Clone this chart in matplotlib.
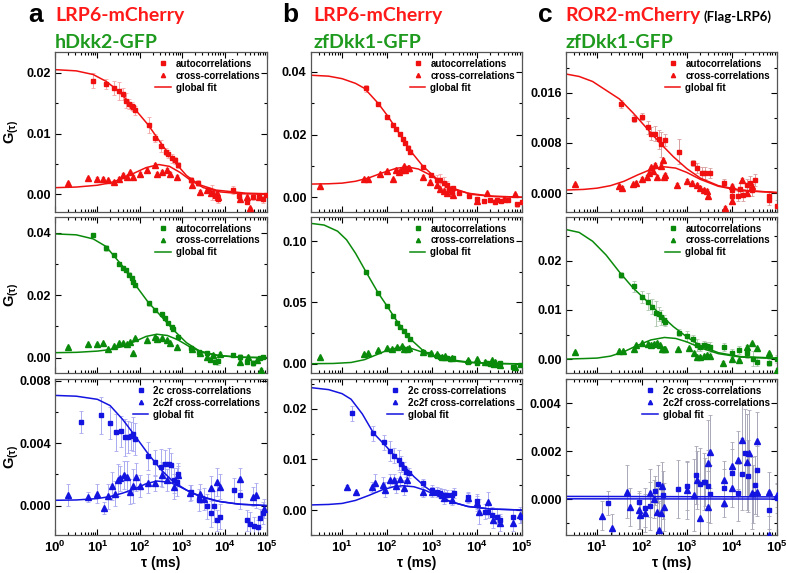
import matplotlib
matplotlib.use('Agg')
import matplotlib.pyplot as plt
import numpy as np
from matplotlib.ticker import FixedLocator, FuncFormatter, LogLocator, NullFormatter

plt.rcParams['font.family'] = 'Liberation Sans'
plt.rcParams['mathtext.fontset'] = 'custom'
plt.rcParams['mathtext.rm'] = 'Liberation Sans:bold'
plt.rcParams['mathtext.it'] = 'Liberation Sans:bold'
plt.rcParams['mathtext.bf'] = 'Liberation Sans:bold'

# data: rows of (log10 tau [ms], G(tau), error)
# ---- column a : LRP6-mCherry / hDkk2-GFP
A1_AUTO = [(0.90, 0.0187, 0.0012), (1.20, 0.0181, 0.0008), (1.38, 0.0175, 0.0012), (1.50, 0.0170, 0.0015),
           (1.61, 0.0165, 0.0010), (1.67, 0.0154, 0.0012), (1.75, 0.0149, 0.0008), (1.81, 0.0145, 0.0007),
           (1.85, 0.0143, 0.0006), (1.89, 0.0138, 0.0007), (2.21, 0.0114, 0.0013), (2.36, 0.0093, 0.0007),
           (2.51, 0.0080, 0.0010), (2.62, 0.0070, 0.0006), (2.67, 0.0066, 0.0007), (2.75, 0.0059, 0.0008),
           (2.83, 0.0056, 0.0006), (2.89, 0.0048, 0.0005), (3.20, 0.0024, 0.0005), (3.38, 0.0018, 0.0005),
           (3.60, 0.0007, 0.0004), (3.70, 0.0003, 0.0012), (3.78, -0.0002, 0.0008), (3.85, -0.0008, 0.0006),
           (4.20, 0.0007, 0.0007), (4.35, -0.0003, 0.0004), (4.52, -0.0012, 0.0004), (4.68, -0.0005, 0.0005),
           (4.80, -0.0002, 0.0005), (4.90, -0.0008, 0.0006), (4.97, -0.0001, 0.0003)]
A1_CROSS = [(0.31, 0.0018, 0.0002), (0.79, 0.0027, 0.0002), (1.00, 0.0026, 0.0002), (1.14, 0.0026, 0.0002),
            (1.26, 0.0023, 0.0002), (1.40, 0.0021, 0.0002), (1.52, 0.0026, 0.0003), (1.61, 0.0032, 0.0003),
            (1.69, 0.0029, 0.0003), (1.78, 0.0036, 0.0003), (1.85, 0.0029, 0.0003), (2.00, 0.0034, 0.0003),
            (2.16, 0.0040, 0.0003), (2.37, 0.0048, 0.0003), (2.40, 0.0034, 0.0003), (2.52, 0.0037, 0.0003),
            (2.63, 0.0040, 0.0003), (2.71, 0.0034, 0.0003), (2.87, 0.0028, 0.0003), (3.22, 0.0015, 0.0003),
            (3.42, 0.0004, 0.0003), (3.58, 0.0007, 0.0003), (3.69, 0.0003, 0.0003), (3.81, 0.0002, 0.0003),
            (3.85, -0.0004, 0.0003), (4.36, -0.0008, 0.0003), (4.52, -0.0004, 0.0003), (4.60, -0.0023, 0.0003),
            (4.80, -0.0004, 0.0003)]
A1_FIT_AUTO = [(0, 0.0205), (0.5, 0.0203), (0.9, 0.0197), (1.2, 0.0186), (1.5, 0.0170), (1.85, 0.0143),
               (2.2, 0.0114), (2.5, 0.0084), (2.8, 0.0055), (3.1, 0.0031), (3.4, 0.0016), (3.8, 0.0007),
               (4.5, 0.0002), (5, 0.0001)]
A1_FIT_CROSS = [(0, 0.0011), (0.5, 0.0012), (1.0, 0.0015), (1.3, 0.0019), (1.6, 0.0026), (1.9, 0.0036),
                (2.15, 0.0044), (2.45, 0.0049), (2.7, 0.0046), (2.95, 0.0036), (3.2, 0.0023), (3.5, 0.0011),
                (3.9, 0.0004), (4.4, 0.0001), (5, 0.0)]

A2_AUTO = [(0.90, 0.0393, 0.0004), (1.20, 0.0352, 0.0010), (1.38, 0.0329, 0.0005), (1.51, 0.0300, 0.0005),
           (1.61, 0.0286, 0.0005), (1.67, 0.0281, 0.0006), (1.75, 0.0265, 0.0008), (1.81, 0.0254, 0.0005),
           (1.85, 0.0243, 0.0006), (1.89, 0.0233, 0.0005), (2.21, 0.0174, 0.0008), (2.36, 0.0153, 0.0007),
           (2.52, 0.0140, 0.0006), (2.59, 0.0126, 0.0005), (2.67, 0.0112, 0.0006), (2.75, 0.0099, 0.0005),
           (2.79, 0.0091, 0.0005), (2.89, 0.0067, 0.0005), (3.20, 0.0030, 0.0005), (3.40, 0.0019, 0.0006),
           (3.58, 0.0014, 0.0006), (3.66, -0.0007, 0.0006), (3.77, -0.0013, 0.0008), (3.85, -0.0010, 0.0012),
           (4.20, 0.0009, 0.0007), (4.36, 0.0003, 0.0010), (4.52, -0.0013, 0.0008), (4.68, -0.0018, 0.0009),
           (4.83, -0.0002, 0.0007), (4.91, 0.0003, 0.0006)]
A2_CROSS = [(0.31, 0.0035, 0.0002), (0.79, 0.0043, 0.0002), (1.00, 0.0044, 0.0002), (1.14, 0.0046, 0.0002),
            (1.26, 0.0027, 0.0002), (1.40, 0.0037, 0.0003), (1.52, 0.0046, 0.0003), (1.61, 0.0048, 0.0003),
            (1.69, 0.0044, 0.0003), (1.78, 0.0051, 0.0003), (1.85, 0.0016, 0.0003), (1.89, 0.0062, 0.0003),
            (2.16, 0.0057, 0.0003), (2.37, 0.0067, 0.0003), (2.40, 0.0059, 0.0003), (2.52, 0.0062, 0.0004),
            (2.63, 0.0057, 0.0004), (2.71, 0.0046, 0.0004), (2.87, 0.0035, 0.0004), (3.22, 0.0027, 0.0004),
            (3.42, 0.0014, 0.0004), (3.58, 0.0003, 0.0004), (3.73, 0.0009, 0.0005), (3.89, 0.0012, 0.0005),
            (4.36, -0.0013, 0.0005), (4.56, 0.0003, 0.0005), (4.76, -0.0007, 0.0005), (4.87, -0.0039, 0.0005)]
A2_FIT_AUTO = [(0, 0.0396), (0.5, 0.0393), (0.9, 0.0380), (1.2, 0.0356), (1.6, 0.0292), (1.9, 0.0232),
               (2.2, 0.0177), (2.5, 0.0133), (2.8, 0.0088), (3.1, 0.0048), (3.4, 0.0022), (3.8, 0.0008),
               (4.3, 0.0002), (5, 0.0)]
A2_FIT_CROSS = [(0, 0.0016), (0.5, 0.0017), (1.0, 0.0021), (1.3, 0.0026), (1.6, 0.0036), (1.9, 0.0053),
                (2.15, 0.0068), (2.4, 0.0075), (2.65, 0.0071), (2.9, 0.0057), (3.2, 0.0033), (3.5, 0.0016),
                (3.9, 0.0006), (4.4, 0.0001), (5, 0.0)]

A3_2C = [(0.61, 0.00535, 0.0007), (1.08, 0.00578, 0.0012), (1.30, 0.00529, 0.0010), (1.44, 0.00469, 0.0012),
         (1.56, 0.00475, 0.0010), (1.64, 0.00437, 0.0012), (1.73, 0.00439, 0.0010), (1.79, 0.00447, 0.0009),
         (1.85, 0.00460, 0.0011), (1.89, 0.00426, 0.0010), (2.19, 0.00320, 0.0009), (2.36, 0.00277, 0.0008),
         (2.50, 0.00245, 0.0012), (2.60, 0.00267, 0.0009), (2.68, 0.00267, 0.0010), (2.74, 0.00258, 0.0008),
         (2.80, 0.00163, 0.0008), (2.87, 0.00153, 0.0009), (2.91, 0.00200, 0.0007), (3.20, 0.00084, 0.0005),
         (3.39, 0.00034, 0.0007), (3.58, -0.00004, 0.0008), (3.68, -0.00050, 0.0009), (3.74, -0.00004, 0.0010),
         (3.82, -0.00095, 0.0007), (3.88, -0.00070, 0.0008), (4.21, 0.00099, 0.0008), (4.37, 0.00067, 0.0009),
         (4.53, -0.00095, 0.0007), (4.61, -0.00120, 0.0008), (4.69, -0.00130, 0.0006), (4.78, -0.00140, 0.0005),
         (4.84, -0.00080, 0.0006), (4.90, -0.00050, 0.0007)]
A3_2C2F = [(0.31, 0.00067, 0.0007), (0.79, 0.00056, 0.0003), (1.00, 0.00077, 0.0006), (1.16, -0.00015, 0.0004),
           (1.26, 0.00060, 0.0008), (1.35, 0.00125, 0.0009), (1.42, 0.00077, 0.0008), (1.48, 0.00163, 0.0010),
           (1.54, 0.00174, 0.0008), (1.63, 0.00196, 0.0009), (1.69, 0.00185, 0.0010), (1.76, 0.00088, 0.0008),
           (1.83, 0.00125, 0.0011), (1.91, 0.00181, 0.0009), (2.01, 0.00125, 0.0007), (2.19, 0.00142, 0.0006),
           (2.36, 0.00142, 0.0005), (2.52, 0.00196, 0.0008), (2.64, 0.00163, 0.0007), (2.80, 0.00120, 0.0008),
           (2.91, 0.00196, 0.0006), (3.19, 0.00082, 0.0005), (3.41, 0.00077, 0.0006), (3.52, 0.00045, 0.0007),
           (3.68, 0.00110, 0.0008), (3.82, 0.00153, 0.0009), (3.90, 0.00120, 0.0008), (4.37, 0.00168, 0.0007),
           (4.66, 0.00056, 0.0006), (4.74, 0.00067, 0.0008), (4.92, -0.00020, 0.0006)]
A3_FIT_2C = [(0, 0.00705), (0.5, 0.00700), (1.0, 0.0068), (1.3, 0.0064), (1.6, 0.0055), (1.85, 0.0046),
             (2.2, 0.0033), (2.5, 0.0023), (2.8, 0.0015), (3.1, 0.0010), (3.4, 0.0006), (3.8, 0.0003),
             (4.3, 0.0001), (5, 0.0)]
A3_FIT_2C2F = [(0, 0.00034), (0.5, 0.00036), (1.0, 0.00045), (1.3, 0.00058), (1.6, 0.0008), (1.9, 0.0011),
               (2.15, 0.0014), (2.4, 0.00157), (2.7, 0.0015), (2.95, 0.0012), (3.2, 0.00085), (3.5, 0.00055),
               (3.9, 0.00025), (4.4, 0.00008), (5, 0.0)]

# ---- column b : LRP6-mCherry / zfDkk1-GFP
B1_AUTO = [(1.53, 0.0347, 0.0010), (1.81, 0.0296, 0.0005), (2.00, 0.0257, 0.0004), (2.13, 0.0230, 0.0004),
           (2.21, 0.0216, 0.0004), (2.30, 0.0202, 0.0005), (2.36, 0.0185, 0.0005), (2.41, 0.0172, 0.0006),
           (2.46, 0.0158, 0.0007), (2.52, 0.0145, 0.0008), (2.81, 0.0098, 0.0004), (2.99, 0.0071, 0.0005),
           (3.11, 0.0055, 0.0015), (3.19, 0.0055, 0.0020), (3.26, 0.0047, 0.0018), (3.33, 0.0039, 0.0012),
           (3.39, 0.0023, 0.0010), (3.44, 0.0018, 0.0008), (3.48, 0.0029, 0.0008), (3.60, 0.0012, 0.0005),
           (3.83, 0.0005, 0.0005), (4.00, -0.0006, 0.0006), (4.15, -0.0012, 0.0005), (4.30, -0.0010, 0.0006),
           (4.40, -0.0014, 0.0007), (4.45, -0.0008, 0.0006), (4.55, -0.0012, 0.0005), (4.70, -0.0009, 0.0006),
           (4.90, -0.0022, 0.0008), (5.00, -0.0016, 0.0006)]
B1_CROSS = [(0.50, 0.0036, 0.0002), (1.48, 0.0058, 0.0002), (1.58, 0.0058, 0.0002), (1.85, 0.0073, 0.0003),
            (2.00, 0.0085, 0.0003), (2.13, 0.0058, 0.0003), (2.21, 0.0087, 0.0003), (2.26, 0.0082, 0.0003),
            (2.32, 0.0087, 0.0003), (2.37, 0.0100, 0.0004), (2.41, 0.0087, 0.0004), (2.46, 0.0092, 0.0004),
            (2.50, 0.0092, 0.0004), (2.81, 0.0066, 0.0004), (2.96, 0.0050, 0.0005), (3.11, 0.0039, 0.0006),
            (3.19, 0.0025, 0.0006), (3.26, 0.0020, 0.0006), (3.33, 0.0015, 0.0006), (3.48, 0.0007, 0.0006),
            (4.00, -0.0012, 0.0005), (4.22, 0.0013, 0.0005), (4.60, -0.0006, 0.0006), (4.85, 0.0010, 0.0005)]
B1_FIT_AUTO = [(0.3, 0.0389), (0.7, 0.0386), (1.0, 0.0378), (1.3, 0.0363), (1.5, 0.0347), (1.8, 0.0300),
               (2.0, 0.0262), (2.2, 0.0220), (2.5, 0.0152), (2.8, 0.0099), (3.1, 0.0060), (3.4, 0.0032),
               (3.8, 0.0013), (4.3, 0.0004), (5, 0.0)]
B1_FIT_CROSS = [(0.3, 0.0042), (0.7, 0.0043), (1.0, 0.0045), (1.3, 0.0051), (1.6, 0.0062), (1.9, 0.0078),
                (2.2, 0.0092), (2.45, 0.0097), (2.7, 0.0090), (2.95, 0.0072), (3.2, 0.0048), (3.5, 0.0025),
                (3.9, 0.0009), (4.4, 0.0002), (5, 0.0)]

B2_AUTO = [(1.53, 0.0751, 0.0010), (1.81, 0.0575, 0.0010), (2.00, 0.0472, 0.0010), (2.13, 0.0390, 0.0010),
           (2.22, 0.0336, 0.0010), (2.30, 0.0304, 0.0010), (2.37, 0.0268, 0.0010), (2.44, 0.0236, 0.0010),
           (2.52, 0.0200, 0.0012), (2.81, 0.0095, 0.0010), (2.96, 0.0079, 0.0015), (3.11, 0.0068, 0.0015),
           (3.19, 0.0054, 0.0012), (3.26, 0.0046, 0.0015), (3.33, 0.0046, 0.0012), (3.41, 0.0038, 0.0012),
           (3.48, 0.0046, 0.0010), (3.81, 0.0016, 0.0015), (4.00, 0.0005, 0.0015), (4.22, 0.0011, 0.0015),
           (4.30, 0.0000, 0.0012), (4.37, -0.0008, 0.0012), (4.44, -0.0008, 0.0012), (4.52, 0.0005, 0.0012),
           (4.81, -0.0027, 0.0012), (4.96, -0.0008, 0.0010)]
B2_CROSS = [(0.50, 0.0054, 0.0005), (1.48, 0.0081, 0.0005), (1.58, 0.0087, 0.0005), (1.79, 0.0114, 0.0008),
            (2.00, 0.0127, 0.0008), (2.11, 0.0119, 0.0008), (2.22, 0.0136, 0.0008), (2.33, 0.0146, 0.0008),
            (2.37, 0.0119, 0.0008), (2.44, 0.0119, 0.0008), (2.50, 0.0127, 0.0008), (2.81, 0.0100, 0.0010),
            (2.99, 0.0087, 0.0010), (3.11, 0.0081, 0.0010), (3.22, 0.0060, 0.0010), (3.30, 0.0065, 0.0010),
            (3.44, 0.0046, 0.0010), (3.81, 0.0033, 0.0010), (4.00, 0.0038, 0.0010), (4.19, 0.0019, 0.0010),
            (4.33, 0.0033, 0.0010), (4.41, 0.0019, 0.0010), (4.52, -0.0008, 0.0010), (4.85, -0.0022, 0.0010)]
B2_FIT_AUTO = [(0.3, 0.1144), (0.6, 0.1130), (0.9, 0.1080), (1.1, 0.1010), (1.3, 0.0900), (1.53, 0.0751),
               (1.8, 0.0580), (2.0, 0.0472), (2.2, 0.0360), (2.5, 0.0210), (2.8, 0.0110), (3.1, 0.0055),
               (3.4, 0.0028), (3.8, 0.0012), (4.3, 0.0004), (5, 0.0)]
B2_FIT_CROSS = [(0.3, 0.0002), (0.8, 0.0004), (1.2, 0.0012), (1.5, 0.0035), (1.8, 0.0080), (2.05, 0.0118),
                (2.3, 0.0135), (2.55, 0.0125), (2.8, 0.0095), (3.1, 0.0060), (3.4, 0.0035), (3.8, 0.0016),
                (4.3, 0.0005), (5, 0.0001)]

B3_2C = [(1.22, 0.0191, 0.0015), (1.69, 0.0152, 0.0015), (1.93, 0.0134, 0.0015), (2.06, 0.0117, 0.0020),
         (2.16, 0.0107, 0.0015), (2.26, 0.0099, 0.0020), (2.32, 0.0091, 0.0015), (2.37, 0.0083, 0.0012),
         (2.43, 0.0076, 0.0010), (2.50, 0.0074, 0.0010), (2.81, 0.0053, 0.0008), (3.00, 0.0040, 0.0010),
         (3.11, 0.0036, 0.0010), (3.19, 0.0033, 0.0010), (3.26, 0.0030, 0.0012), (3.33, 0.0030, 0.0010),
         (3.44, 0.0030, 0.0010), (3.50, 0.0033, 0.0010), (3.81, 0.0026, 0.0010), (4.00, 0.0017, 0.0015),
         (4.19, -0.0003, 0.0015), (4.26, -0.0003, 0.0012), (4.33, -0.0010, 0.0015), (4.44, -0.0013, 0.0015),
         (4.52, -0.0020, 0.0012), (4.81, -0.0013, 0.0015), (4.98, -0.0013, 0.0012)]
B3_2C2F = [(1.10, 0.0046, 0.0003), (1.32, 0.0035, 0.0003), (1.67, 0.0045, 0.0010), (1.74, 0.0053, 0.0018),
           (1.91, 0.0050, 0.0015), (1.96, 0.0040, 0.0015), (2.06, 0.0060, 0.0012), (2.16, 0.0060, 0.0012),
           (2.21, 0.0048, 0.0015), (2.30, 0.0061, 0.0015), (2.37, 0.0044, 0.0015), (2.44, 0.0060, 0.0012),
           (2.81, 0.0036, 0.0010), (3.00, 0.0036, 0.0010), (3.22, 0.0030, 0.0012), (3.26, 0.0023, 0.0012),
           (3.44, 0.0020, 0.0010), (3.81, 0.0023, 0.0010), (4.00, 0.0013, 0.0015), (4.04, -0.0003, 0.0025),
           (4.24, 0.0015, 0.0020), (4.36, -0.0020, 0.0015), (4.52, -0.0026, 0.0015), (4.81, -0.0026, 0.0015),
           (4.96, -0.0010, 0.0015)]
B3_FIT_2C = [(0.3, 0.0242), (0.7, 0.0238), (1.0, 0.0230), (1.2, 0.0219), (1.45, 0.0190), (1.7, 0.0152),
             (2.0, 0.0124), (2.2, 0.0104), (2.4, 0.0085), (2.6, 0.0066), (2.85, 0.0046), (3.1, 0.0030),
             (3.4, 0.0017), (3.8, 0.0007), (4.3, 0.0002), (5, 0.0)]
B3_FIT_2C2F = [(0.3, 0.0010), (0.7, 0.0011), (1.0, 0.0013), (1.3, 0.0019), (1.6, 0.0029), (1.9, 0.0040),
               (2.15, 0.0046), (2.35, 0.0048), (2.6, 0.0046), (2.85, 0.0039), (3.1, 0.0029), (3.4, 0.0017),
               (3.8, 0.0007), (4.3, 0.0002), (5, 0.0)]

# ---- column c : ROR2-mCherry (Flag-LRP6) / zfDkk1-GFP
C1_AUTO = [(1.53, 0.0142, 0.0006), (1.83, 0.0119, 0.0005), (2.00, 0.0122, 0.0005), (2.13, 0.0105, 0.0010),
           (2.20, 0.0095, 0.0010), (2.30, 0.0095, 0.0012), (2.37, 0.0086, 0.0015), (2.43, 0.0078, 0.0020),
           (2.52, 0.0085, 0.0010), (2.83, 0.0066, 0.0020), (3.13, 0.0048, 0.0005), (3.22, 0.0040, 0.0008),
           (3.33, 0.0032, 0.0010), (3.41, 0.0032, 0.0010), (3.52, 0.0032, 0.0008), (3.83, 0.0017, 0.0005),
           (4.00, 0.0005, 0.0008), (4.19, 0.0006, 0.0010), (4.33, 0.0013, 0.0010), (4.41, 0.0016, 0.0012),
           (4.44, 0.0005, 0.0010), (4.52, 0.0021, 0.0010), (4.83, -0.0005, 0.0008), (4.00, -0.0004, 0.0008),
           (4.13, -0.0005, 0.0008), (4.24, -0.0003, 0.0010), (4.83, -0.0011, 0.0008), (5.00, -0.0021, 0.0010)]
C1_CROSS = [(0.50, 0.0015, 0.0002), (1.48, 0.0012, 0.0002), (1.56, 0.0009, 0.0002), (1.81, 0.0014, 0.0002),
            (1.87, 0.0017, 0.0002), (2.00, 0.0023, 0.0003), (2.11, 0.0026, 0.0003), (2.15, 0.0032, 0.0003),
            (2.20, 0.0041, 0.0003), (2.24, 0.0036, 0.0003), (2.30, 0.0045, 0.0003), (2.33, 0.0026, 0.0003),
            (2.43, 0.0044, 0.0003), (2.46, 0.0053, 0.0003), (2.48, 0.0026, 0.0003), (2.52, 0.0029, 0.0003),
            (2.78, 0.0013, 0.0003), (3.00, 0.0019, 0.0003), (3.11, 0.0016, 0.0003), (3.22, 0.0013, 0.0003),
            (3.30, 0.0008, 0.0003), (3.37, 0.0005, 0.0003), (3.44, 0.0003, 0.0003), (3.48, -0.0005, 0.0003),
            (3.84, -0.0024, 0.0003), (4.00, 0.0011, 0.0003), (4.00, -0.0013, 0.0003), (4.22, 0.0021, 0.0003),
            (4.33, 0.0000, 0.0003), (4.44, 0.0011, 0.0003)]
C1_FIT_AUTO = [(0.3, 0.0190), (0.6, 0.0186), (0.9, 0.0178), (1.2, 0.0164), (1.5, 0.0150), (1.8, 0.0128),
               (2.1, 0.0104), (2.4, 0.0080), (2.7, 0.0058), (3.0, 0.0039), (3.3, 0.0024), (3.7, 0.0012),
               (4.2, 0.0005), (5, 0.0001)]
C1_FIT_CROSS = [(0.3, 0.0005), (0.7, 0.0006), (1.0, 0.0008), (1.3, 0.0012), (1.6, 0.0019), (1.9, 0.0029),
                (2.2, 0.0038), (2.5, 0.0042), (2.75, 0.0040), (3.0, 0.0033), (3.3, 0.0022), (3.7, 0.0011),
                (4.2, 0.0004), (5, 0.0001)]

C2_AUTO = [(1.53, 0.0171, 0.0006), (1.83, 0.0148, 0.0012), (2.00, 0.0127, 0.0012), (2.13, 0.0117, 0.0018),
           (2.22, 0.0107, 0.0015), (2.32, 0.0093, 0.0025), (2.37, 0.0092, 0.0015), (2.42, 0.0085, 0.0015),
           (2.48, 0.0080, 0.0010), (2.52, 0.0076, 0.0008), (2.83, 0.0054, 0.0008), (3.00, 0.0046, 0.0012),
           (3.13, 0.0040, 0.0010), (3.22, 0.0029, 0.0012), (3.30, 0.0025, 0.0008), (3.37, 0.0029, 0.0008),
           (3.44, 0.0027, 0.0008), (3.52, 0.0025, 0.0010), (3.83, 0.0025, 0.0008), (4.00, 0.0013, 0.0008),
           (4.15, 0.0018, 0.0008), (4.33, 0.0012, 0.0010), (4.48, 0.0001, 0.0015), (4.56, -0.0005, 0.0010),
           (4.83, -0.0007, 0.0008), (5.00, 0.0001, 0.0008)]
C2_CROSS = [(0.50, 0.0014, 0.0002), (1.48, 0.0016, 0.0002), (1.58, 0.0017, 0.0002), (1.83, 0.0020, 0.0002),
            (1.87, 0.0029, 0.0002), (2.00, 0.0032, 0.0003), (2.13, 0.0031, 0.0003), (2.20, 0.0029, 0.0003),
            (2.27, 0.0031, 0.0003), (2.33, 0.0033, 0.0003), (2.39, 0.0028, 0.0003), (2.44, 0.0020, 0.0003),
            (2.48, 0.0020, 0.0003), (2.52, 0.0020, 0.0003), (2.81, 0.0020, 0.0003), (3.04, 0.0022, 0.0003),
            (3.15, 0.0012, 0.0003), (3.22, 0.0005, 0.0003), (3.30, 0.0005, 0.0003), (3.37, 0.0006, 0.0003),
            (3.44, 0.0008, 0.0003), (3.52, 0.0007, 0.0003), (3.81, -0.0007, 0.0003), (4.00, 0.0001, 0.0003),
            (4.15, -0.0002, 0.0003), (4.33, 0.0025, 0.0003), (4.44, 0.0032, 0.0003), (4.56, 0.0022, 0.0003),
            (4.83, 0.0012, 0.0003), (5.00, -0.0022, 0.0003)]
C2_FIT_AUTO = [(0.3, 0.0264), (0.6, 0.0258), (0.9, 0.0240), (1.2, 0.0212), (1.5, 0.0177), (1.8, 0.0145),
               (2.1, 0.0119), (2.4, 0.0091), (2.7, 0.0066), (3.0, 0.0045), (3.3, 0.0027), (3.7, 0.0013),
               (4.2, 0.0005), (5, 0.0002)]
C2_FIT_CROSS = [(0.3, 0.0000), (0.7, 0.0001), (1.0, 0.0002), (1.3, 0.0006), (1.6, 0.0015), (1.9, 0.0028),
                (2.2, 0.0039), (2.5, 0.0044), (2.75, 0.0042), (3.0, 0.0035), (3.3, 0.0023), (3.7, 0.0011),
                (4.2, 0.0004), (5, 0.0001)]

C3_2C = [(1.24, -0.00017, 0.0005), (1.93, -0.00012, 0.0004), (2.07, -0.00035, 0.0008), (2.17, -0.00028, 0.0010),
         (2.30, 0.00035, 0.0006), (2.35, 0.00064, 0.0008), (2.47, 0.00018, 0.0010), (2.81, 0.00042, 0.0012),
         (3.00, 0.00057, 0.0010), (3.20, 0.00101, 0.0012), (3.30, 0.00063, 0.0015), (3.37, 0.00074, 0.0012),
         (3.41, 0.00071, 0.0010), (3.48, 0.00056, 0.0015), (3.52, 0.00022, 0.0012), (3.83, 0.00046, 0.0008),
         (4.00, 0.00111, 0.0010), (4.13, 0.00028, 0.0012), (4.22, 0.00106, 0.0015), (4.30, 0.00194, 0.0018),
         (4.37, 0.00097, 0.0015), (4.47, 0.00022, 0.0012), (4.52, 0.00060, 0.0012), (4.56, 0.00122, 0.0010),
         (4.83, -0.00044, 0.0008), (5.00, 0.00004, 0.0006)]
C3_2C2F = [(1.11, -0.00069, 0.0006), (1.33, -0.00120, 0.0006), (1.67, 0.00032, 0.0011), (1.73, -0.00031, 0.0008),
           (1.93, -0.00044, 0.0008), (1.96, -0.00065, 0.0006), (2.07, -0.00056, 0.0008), (2.17, 0.00025, 0.0010),
           (2.26, 0.00000, 0.0008), (2.33, -0.00051, 0.0010), (2.37, -0.00128, 0.0012), (2.42, -0.00058, 0.0010),
           (2.44, 0.00056, 0.0010), (2.50, -0.00031, 0.0010), (3.00, 0.00039, 0.0012), (3.15, 0.00018, 0.0015),
           (3.22, 0.00081, 0.0012), (3.30, -0.00079, 0.0015), (3.46, -0.00031, 0.0015), (3.48, 0.00150, 0.0018),
           (3.52, 0.00199, 0.0015), (3.83, 0.00081, 0.0008), (3.83, -0.00014, 0.0006), (4.00, 0.00139, 0.0010),
           (4.00, 0.00046, 0.0008), (4.13, 0.00164, 0.0012), (4.22, 0.00247, 0.0015), (4.33, 0.00157, 0.0020),
           (4.39, 0.00192, 0.0018), (4.44, 0.00025, 0.0015), (4.56, 0.00244, 0.0012), (4.56, 0.00032, 0.0010),
           (4.83, 0.00032, 0.0008), (4.83, -0.00149, 0.0008), (5.00, 0.00018, 0.0005)]
C3_FIT_2C = [(0.3, 0.00012), (5, 0.00010)]
C3_FIT_2C2F = [(0.3, 0.00002), (5, 0.00001)]

RED, GREEN, BLUE = '#f01010', '#0a8a0a', '#1414e0'
RED_E, GREEN_E, BLUE_E = '#f5a8a8', '#a9d3a9', '#aaaaf0'

AUTO_LABELS = ['autocorrelations', 'cross-correlations', 'global fit']
CC_LABELS = ['2c cross-correlations', '2c2f cross-correlations', 'global fit']

# axes frames in pixels (left, top, right, bottom) of a 787x573 canvas
COL_X = [(55, 267), (310.7, 521.7), (565.7, 776.7)]
ROW_Y = [(52, 212), (216.7, 373.3), (379, 535.3)]
W, H = 787, 573

fig = plt.figure(figsize=(W / 100, H / 100), dpi=100)


def make_ax(col, row):
    x0, x1 = COL_X[col]
    y0, y1 = ROW_Y[row]
    return fig.add_axes([x0 / W, 1 - y1 / H, (x1 - x0) / W, (y1 - y0) / H])


def panel(ax, sq, tri, fit_sq, fit_tri, color, ecolor, labels, xmin, ylim, step, ndec, bottom):
    for rows in (sq, tri):
        t = 10 ** np.array([r[0] for r in rows])
        g = np.array([r[1] for r in rows])
        e = np.array([r[2] for r in rows])
        ax.errorbar(t, g, yerr=e, fmt='none', ecolor=ecolor, elinewidth=0.7, capsize=1.5, capthick=0.6, zorder=1)
    h_sq, = ax.plot(10 ** np.array([r[0] for r in sq]), [r[1] for r in sq], 's', ms=3.2, color=color,
                    mec=color, zorder=3, label=labels[0])
    h_tri, = ax.plot(10 ** np.array([r[0] for r in tri]), [r[1] for r in tri], '^', ms=3.8, color=color,
                     mec=color, zorder=3, label=labels[1])
    h_fit, = ax.plot(10 ** np.array([f[0] for f in fit_sq]), [f[1] for f in fit_sq], '-', color=color,
                     lw=1.1, zorder=2, label=labels[2])
    ax.plot(10 ** np.array([f[0] for f in fit_tri]), [f[1] for f in fit_tri], '-', color=color, lw=1.1, zorder=2)

    ax.set_xscale('log')
    ax.set_xlim(xmin, 1e5)
    ax.set_ylim(*ylim)
    ax.xaxis.set_major_locator(LogLocator(base=10, numticks=10))
    ax.xaxis.set_minor_locator(LogLocator(base=10, subs=np.arange(2, 10), numticks=20))
    ax.xaxis.set_minor_formatter(NullFormatter())
    if bottom:
        ax.xaxis.set_major_formatter(FuncFormatter(lambda v, p: r'$10^{%d}$' % round(np.log10(v))))
        ax.set_xlabel('τ (ms)', fontsize=10, fontweight='bold', labelpad=1)
    else:
        ax.xaxis.set_major_formatter(NullFormatter())
    majors = [0, step, 2 * step]
    ax.yaxis.set_major_locator(FixedLocator(majors))
    ax.yaxis.set_minor_locator(FixedLocator([-step / 2, step / 2, 1.5 * step, 2.5 * step]))
    ax.yaxis.set_major_formatter(FuncFormatter(lambda v, p: '%.*f' % (ndec, v)))
    ax.tick_params(which='both', direction='in', top=True, right=True, labelsize=9, width=0.8, pad=3)
    ax.tick_params(axis='x', labelsize=9.5)
    ax.tick_params(which='major', length=4)
    ax.tick_params(which='minor', length=2)
    for lab in ax.get_yticklabels() + ax.get_xticklabels():
        lab.set_fontweight('bold')
    for sp in ax.spines.values():
        sp.set_color('#555555')
        sp.set_linewidth(0.9)
    ax.legend(handles=[h_sq, h_tri, h_fit], loc='upper right', frameon=False, numpoints=1,
              prop={'size': 7, 'weight': 'bold'}, handlelength=1.6, handletextpad=0.5, labelspacing=0.2,
              borderaxespad=0.3, markerscale=0.8)


ylab = r'$G_{(\tau)}$'

# column a
ax = make_ax(0, 0)
panel(ax, A1_AUTO, A1_CROSS, A1_FIT_AUTO, A1_FIT_CROSS, RED, RED_E, AUTO_LABELS, 1, (-0.0029, 0.0234), 0.01, 2, False)
ax.set_ylabel(ylab, fontsize=10.5)
ax.yaxis.set_label_coords(-0.162, 0.5)
ax = make_ax(0, 1)
panel(ax, A2_AUTO, A2_CROSS, A2_FIT_AUTO, A2_FIT_CROSS, GREEN, GREEN_E, AUTO_LABELS, 1, (-0.005, 0.0451), 0.02, 2, False)
ax.set_ylabel(ylab, fontsize=10.5)
ax.yaxis.set_label_coords(-0.162, 0.5)
ax = make_ax(0, 2)
panel(ax, A3_2C, A3_2C2F, A3_FIT_2C, A3_FIT_2C2F, BLUE, BLUE_E, CC_LABELS, 1, (-0.0019, 0.0081), 0.004, 3, True)
ax.set_ylabel(ylab, fontsize=10.5)
ax.yaxis.set_label_coords(-0.162, 0.5)

# column b
ax = make_ax(1, 0)
panel(ax, B1_AUTO, B1_CROSS, B1_FIT_AUTO, B1_FIT_CROSS, RED, RED_E, AUTO_LABELS, 2, (-0.0047, 0.0463), 0.02, 2, False)
ax = make_ax(1, 1)
panel(ax, B2_AUTO, B2_CROSS, B2_FIT_AUTO, B2_FIT_CROSS, GREEN, GREEN_E, AUTO_LABELS, 2, (-0.0076, 0.1198), 0.05, 2, False)
ax = make_ax(1, 2)
panel(ax, B3_2C, B3_2C2F, B3_FIT_2C, B3_FIT_2C2F, BLUE, BLUE_E, CC_LABELS, 2, (-0.005, 0.0259), 0.01, 2, True)

# column c
ax = make_ax(2, 0)
panel(ax, C1_AUTO, C1_CROSS, C1_FIT_AUTO, C1_FIT_CROSS, RED, '#d8a0a0', AUTO_LABELS, 2, (-0.003, 0.0225), 0.008, 3, False)
ax = make_ax(2, 1)
panel(ax, C2_AUTO, C2_CROSS, C2_FIT_AUTO, C2_FIT_CROSS, GREEN, '#b0c8b0', AUTO_LABELS, 2, (-0.0029, 0.029), 0.01, 2, False)
ax = make_ax(2, 2)
panel(ax, C3_2C, C3_2C2F, C3_FIT_2C, C3_FIT_2C2F, BLUE, '#a8a8b8', CC_LABELS, 2, (-0.0015, 0.00501), 0.002, 3, True)

# panel headers
TITLE_RED, TITLE_GREEN = '#ff1a1a', '#1e9a1e'
HEAD = [('a', 28, 'LRP6-mCherry', 55, 'hDkk2-GFP'),
        ('b', 282, 'LRP6-mCherry', 313, 'zfDkk1-GFP'),
        ('c', 538, 'ROR2-mCherry', 565, 'zfDkk1-GFP')]
for letter, lx, red_txt, tx, green_txt in HEAD:
    fig.text(lx / W, 1 - 15 / H, letter, fontsize=19, fontweight='bold', va='center', ha='left')
    fig.text(tx / W, 1 - 15 / H, red_txt, fontsize=14, fontweight='bold', color=TITLE_RED, va='center',
             ha='left', family='Lato')
    fig.text(tx / W, 1 - 42 / H, green_txt, fontsize=14, fontweight='bold', color=TITLE_GREEN, va='center',
             ha='left', family='Lato')
fig.text(703 / W, 1 - 17 / H, '(Flag-LRP6)', fontsize=9.5, fontweight='bold', va='center', ha='left', family='Lato')

fig.savefig('out.png', dpi=100)
